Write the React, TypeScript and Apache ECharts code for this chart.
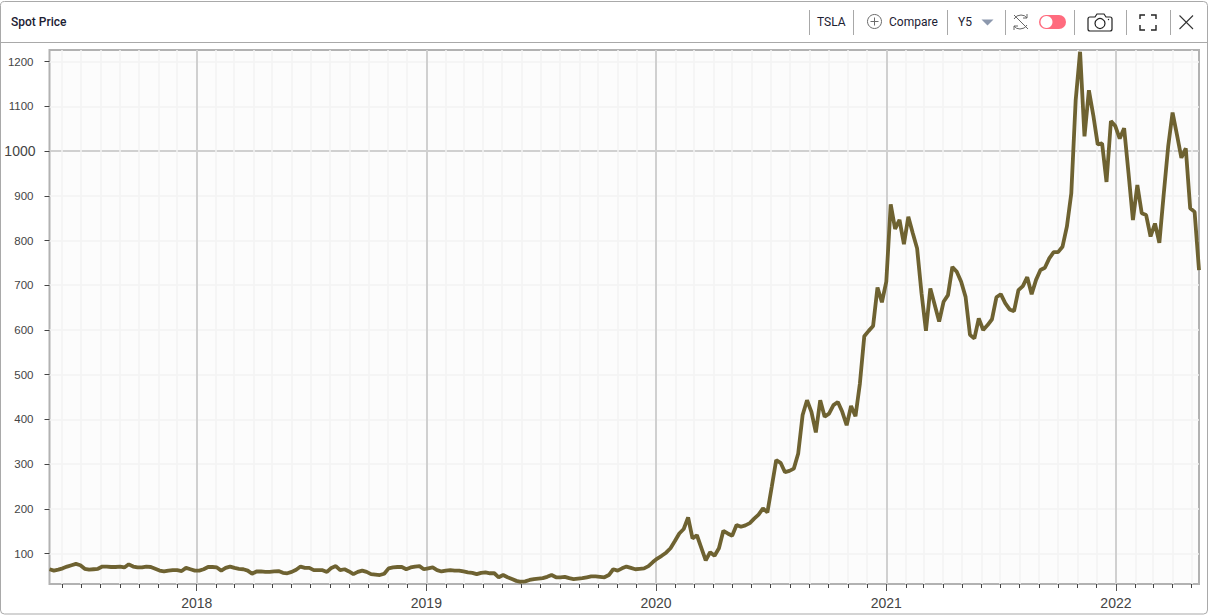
import React, { useEffect, useRef } from "react";
import * as echarts from "echarts";

const title = "Spot Price";
const ticker = "TSLA";
const compareLabel = "Compare";
const rangeLabel = "Y5";

// Weekly closes, first week 2017-05-12
const firstWeek = Date.UTC(2017, 4, 12);
const WEEK = 7 * 86400000;
const prices2017 = [65,62,64,67,71,74,77,74,66,64,65,66,71,71,70,70,71,69,76,71,69,69,71,70,66,62,60,62,63,63,61,68,65,62,62];
const prices2018 = [65,70,70,69,62,68,71,68,66,65,62,55,60,60,59,59,60,61,57,56,59,64,71,68,68,63,63,63,59,68,72,63,65,60,54,59,62,59,54,53,52,55,67,69,70,70,65,69,71,72,65,67];
const prices2019 = [69,63,60,62,63,62,62,60,58,57,54,57,58,56,56,47,52,47,43,39,37,38,41,43,44,45,48,52,47,47,48,45,43,44,45,47,49,49,48,47,52,65,62,67,71,68,65,66,67,72,81];
const prices2020 = [89,95,102,112,128,145,155,181,134,141,113,85,103,95,112,151,145,140,164,160,163,168,178,187,201,192,250,309,303,282,285,290,324,410,443,417,371,443,406,413,432,439,417,387,430,407,480,586,598,609,695,662];
const prices2021 = [708,881,826,846,792,853,817,782,682,598,693,656,619,663,678,741,730,708,674,589,581,626,600,611,624,673,680,660,646,642,689,698,718,680,712,734,739,760,774,774,786,831,905,1114,1222,1033,1136,1080,1015,1017,931,1067];
const prices2022 = [1056,1028,1051,950,846,924,861,857,809,838,795,905,1010,1086,1036,985,1006,872,864,734];
const prices = [...prices2017, ...prices2018, ...prices2019, ...prices2020, ...prices2021, ...prices2022];
const seriesData = prices.map((p, i) => [firstWeek + i * WEEK, p]);

const yMinorTicks = [100, 200, 300, 400, 500, 600, 700, 800, 900, 1100, 1200];
const yMajorTicks = [1000];
const yearTicks = [2018, 2019, 2020, 2021, 2022];
const tickMonths: number[] = [];
for (let y = 2017; y <= 2022; y++) {
  for (let m = 0; m < 12; m++) {
    const t = Date.UTC(y, m, 1);
    if (m !== 0 && t > firstWeek && t < firstWeek + (prices.length - 1) * WEEK) tickMonths.push(t);
  }
}

const F = "'Liberation Sans', Arial, sans-serif";
const R = "Roboto, sans-serif";
const DARK = "#1c2133";

echarts.graphic.registerShape("shuffleIcon", echarts.graphic.extendPath(
  "M1014 19 Q1016 15 1021 15 Q1025 15 1027 18 M1027 25 Q1025 29 1020 29 Q1016 29 1014 26 M1027 14 L1027 18 L1023 18 M1014 30 L1014 26 L1018 26 M1014 15 L1028 29", {}));
echarts.graphic.registerShape("cameraIcon", echarts.graphic.extendPath(
  "M1090 17 L1095 17 L1097 14 L1104 14 L1106 17 L1110 17 Q1112 17 1112 19 L1112 29 Q1112 31 1110 31 L1090 31 Q1088 31 1088 29 L1088 19 Q1088 17 1090 17 Z", {}));
echarts.graphic.registerShape("fullIcon", echarts.graphic.extendPath(
  "M1140 19 L1140 15 L1145 15 M1151 15 L1156 15 L1156 19 M1156 25 L1156 30 L1151 30 M1145 30 L1140 30 L1140 25", {}));

const separators = [809.5, 853.5, 947.5, 1005.5, 1074.5, 1126.5, 1170.5];

export default function App() {
  const ref = useRef<HTMLDivElement>(null);
  useEffect(() => {
    const chart = echarts.init(ref.current!, null, { renderer: "svg" });
    const xMin = firstWeek;
    const xMax = firstWeek + (prices.length - 1) * WEEK;
    const yMin = 32;
    const yMax = 1226;
    const yearStamps = yearTicks.map((y) => Date.UTC(y, 0, 1));
    const txt = (x: number, text: string, fontWeight = 400) => ({
      type: "text", x, y: 21.5,
      style: { text, fill: DARK, font: `${fontWeight} 12px ${R}`, textVerticalAlign: "middle" },
    });
    chart.setOption({
      animation: false,
      backgroundColor: "#ffffff",
      grid: {
        show: true, left: 49.5, right: 12, top: 50, bottom: 32,
        backgroundColor: "#fcfcfc", borderColor: "#b2b2b2", borderWidth: 2,
      },
      xAxis: [
        {
          type: "value", min: xMin, max: xMax, position: "bottom",
          axisLine: { show: false },
          axisTick: { show: true, length: 4, customValues: tickMonths, lineStyle: { color: "#444", width: 1 } },
          axisLabel: { show: false },
          splitLine: { show: true, lineStyle: { color: "#f3f3f3", width: 1.5 } },
        },
        {
          type: "value", min: xMin, max: xMax, position: "bottom",
          axisLine: { show: false },
          axisTick: { show: true, length: 7, customValues: yearStamps, lineStyle: { color: "#555", width: 1 } },
          axisLabel: {
            show: true, customValues: yearStamps, margin: 12, hideOverlap: false,
            color: "#444", fontSize: 14, fontFamily: F,
            formatter: (v: number) => String(new Date(v).getUTCFullYear()),
          },
          splitLine: { show: true, lineStyle: { color: "#d0d0d0", width: 2 } },
        },
      ],
      yAxis: [
        {
          type: "value", min: yMin, max: yMax, position: "left",
          axisLine: { show: false },
          axisTick: { show: true, length: 5, customValues: yMinorTicks, lineStyle: { color: "#444", width: 1 } },
          axisLabel: { show: true, customValues: yMinorTicks, margin: 16, color: "#444", fontSize: 11.5, fontFamily: F, formatter: (v: number) => String(v) },
          splitLine: { show: true, lineStyle: { color: "#f3f3f3", width: 1.5 } },
        },
        {
          type: "value", min: yMin, max: yMax, position: "left",
          axisLine: { show: false },
          axisTick: { show: true, length: 5, customValues: yMajorTicks, lineStyle: { color: "#444", width: 1 } },
          axisLabel: { show: true, customValues: yMajorTicks, margin: 14, color: "#444", fontSize: 14, fontFamily: F, formatter: (v: number) => String(v) },
          splitLine: { show: true, lineStyle: { color: "#d0d0d0", width: 2 } },
        },
      ],
      series: [
        {
          type: "line", xAxisIndex: 0, yAxisIndex: 0, data: seriesData,
          showSymbol: false, smooth: false, clip: false,
          lineStyle: { color: "#6e6231", width: 3.8 },
          itemStyle: { color: "#6e6231" },
        },
      ],
      graphic: [
        { type: "rect", shape: { x: 0.5, y: 1.5, width: 1207, height: 612.5, r: 4 }, silent: true, z: -10,
          style: { fill: "none", stroke: "#a9a9a9", lineWidth: 1 } },
        { type: "line", shape: { x1: 0, y1: 42.5, x2: 1208, y2: 42.5 }, style: { stroke: "#a9a9a9", lineWidth: 1 } },
        txt(11, title, 500),
        ...separators.map((x) => ({ type: "line", shape: { x1: x, y1: 10, x2: x, y2: 35 }, style: { stroke: "#a8a8a8", lineWidth: 1 } })),
        txt(817, ticker),
        { type: "circle", shape: { cx: 874.5, cy: 21.5, r: 7 }, style: { fill: "none", stroke: "#6b6b6b", lineWidth: 1 } },
        { type: "line", shape: { x1: 870.5, y1: 21.5, x2: 878.5, y2: 21.5 }, style: { stroke: "#6b6b6b", lineWidth: 1 } },
        { type: "line", shape: { x1: 874.5, y1: 17.5, x2: 874.5, y2: 25.5 }, style: { stroke: "#6b6b6b", lineWidth: 1 } },
        txt(889, compareLabel),
        txt(958, rangeLabel),
        { type: "polygon", shape: { points: [[981.5, 19.5], [993.5, 19.5], [987.5, 25.5]] }, style: { fill: "#8c98ad" } },
        { type: "shuffleIcon", style: { fill: "none", stroke: "#666", lineWidth: 1 } },
        { type: "rect", shape: { x: 1039, y: 15, width: 27, height: 14, r: 7 }, style: { fill: "#ff6b7e" } },
        { type: "circle", shape: { cx: 1046.5, cy: 22, r: 6 }, style: { fill: "#ffffff" } },
        { type: "cameraIcon", style: { fill: "none", stroke: "#222", lineWidth: 1.2 } },
        { type: "circle", shape: { cx: 1100, cy: 23.5, r: 5 }, style: { fill: "none", stroke: "#222", lineWidth: 1.2 } },
        { type: "circle", shape: { cx: 1108.5, cy: 19.5, r: 0.7 }, style: { fill: "#222" } },
        { type: "fullIcon", style: { fill: "none", stroke: "#222", lineWidth: 1.4 } },
        { type: "line", shape: { x1: 1179.5, y1: 15.5, x2: 1193, y2: 29 }, style: { stroke: "#333", lineWidth: 1.1 } },
        { type: "line", shape: { x1: 1193, y1: 15.5, x2: 1179.5, y2: 29 }, style: { stroke: "#333", lineWidth: 1.1 } },
      ],
    });
    return () => chart.dispose();
  }, []);
  return <div ref={ref} style={{ position: "absolute", left: 0, top: 0, width: 1211, height: 616 }} />;
}
